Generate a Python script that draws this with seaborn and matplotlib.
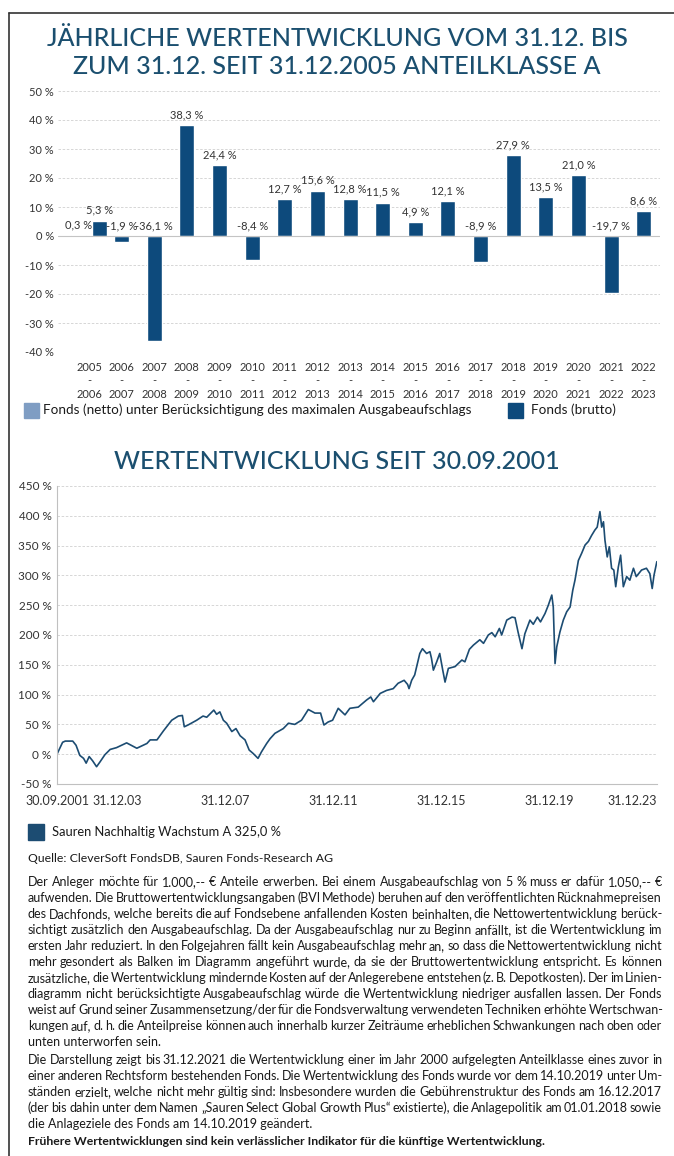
import pandas as pd
import seaborn as sns
import matplotlib.pyplot as plt
import matplotlib.dates as mdates
from matplotlib.lines import Line2D
from matplotlib.patches import Rectangle
from matplotlib.ticker import FuncFormatter, MultipleLocator

# --- data: yearly performance (bar chart) ---
period_start = [2005, 2006, 2007, 2008, 2009, 2010, 2011, 2012, 2013,
                2014, 2015, 2016, 2017, 2018, 2019, 2020, 2021, 2022]
brutto = [5.3, -1.9, -36.1, 38.3, 24.4, -8.4, 12.7, 15.6, 12.8,
          11.5, 4.9, 12.1, -8.9, 27.9, 13.5, 21.0, -19.7, 8.6]
netto = [0.3]  # only the first period has a net bar
period_labels = [f"{y}\n-\n{y + 1}" for y in period_start]

# --- data: cumulative performance since 30.09.2001 (line chart) ---
line_dates = [
    "2001-09-30", "2001-12-15", "2002-01-20", "2002-05-01", "2002-06-15", "2002-08-05",
    "2002-09-25", "2002-10-30", "2002-12-10", "2003-01-25", "2003-03-20", "2003-05-05",
    "2003-07-10", "2003-09-20", "2003-12-15", "2004-04-30", "2004-09-15", "2005-01-30",
    "2005-03-15", "2005-06-15", "2005-09-10", "2006-01-01", "2006-04-01", "2006-05-25",
    "2006-06-20", "2006-08-10", "2006-12-05", "2007-03-01", "2007-04-20", "2007-07-25",
    "2007-09-01", "2007-10-15", "2007-12-01", "2008-01-15", "2008-03-25", "2008-05-20",
    "2008-07-15", "2008-09-20", "2008-11-15", "2009-01-10", "2009-03-15", "2009-05-01",
    "2009-07-10", "2009-08-25", "2009-10-30", "2010-02-20", "2010-05-01", "2010-07-25",
    "2010-10-25", "2011-01-25", "2011-04-25", "2011-07-10", "2011-08-25", "2011-10-20",
    "2011-12-20", "2012-03-05", "2012-06-05", "2012-08-10", "2012-12-01", "2013-03-25",
    "2013-05-20", "2013-06-25", "2013-09-25", "2013-12-20", "2014-03-20", "2014-05-25",
    "2014-08-15", "2014-10-01", "2014-10-20", "2014-11-25", "2015-01-05", "2015-02-05",
    "2015-03-15", "2015-04-20", "2015-06-15", "2015-07-30", "2015-08-20", "2015-09-15",
    "2015-10-30", "2015-12-10", "2016-01-20", "2016-02-20", "2016-04-05", "2016-07-05",
    "2016-10-05", "2016-11-15", "2017-01-15", "2017-03-10", "2017-06-05", "2017-07-25",
    "2017-09-28", "2017-11-15", "2017-12-30", "2018-02-25", "2018-03-28", "2018-06-05",
    "2018-08-15", "2018-09-25", "2018-11-05", "2018-12-28", "2019-02-05", "2019-04-15",
    "2019-05-30", "2019-07-25", "2019-09-05", "2019-11-05", "2019-12-20", "2020-02-05",
    "2020-02-25", "2020-03-20", "2020-04-12", "2020-05-25", "2020-07-10", "2020-08-25",
    "2020-10-10", "2020-11-15", "2020-12-15", "2021-01-30", "2021-03-15", "2021-05-01",
    "2021-06-15", "2021-07-28", "2021-09-10", "2021-10-12", "2021-11-18", "2021-12-12",
    "2022-01-05", "2022-01-25", "2022-02-25", "2022-03-25", "2022-04-25", "2022-05-25",
    "2022-06-20", "2022-07-25", "2022-08-25", "2022-10-01", "2022-11-15", "2022-12-28",
    "2023-02-15", "2023-03-25", "2023-06-05", "2023-08-10", "2023-09-25", "2023-10-27",
    "2023-11-20", "2023-12-29",
]
line_values = [
    0, 20, 22, 22, 15, -2,
    -7, -15, -4, -11, -21, -13,
    -1, 8, 11, 19, 10, 18,
    24, 24, 39, 57, 64, 65,
    46, 49, 57, 64, 62, 74,
    67, 71, 57, 52, 38, 43,
    31, 24, 7, 1, -7, 4,
    18, 26, 35, 43, 52, 50,
    57, 75, 69, 69, 49, 54,
    57, 77, 66, 77, 79, 91,
    96, 88, 102, 107, 110, 119,
    124, 117, 110, 124, 133, 149,
    169, 177, 169, 172, 161, 141,
    155, 169, 141, 121, 144, 147,
    158, 155, 176, 183, 192, 186,
    200, 204, 197, 211, 200, 225,
    230, 229, 205, 177, 202, 225,
    218, 230, 222, 236, 250, 267,
    247, 152, 180, 205, 225, 239,
    247, 275, 292, 325, 337, 351,
    357, 367, 376, 381, 407, 381,
    390, 359, 331, 348, 312, 309,
    281, 314, 334, 281, 298, 292,
    312, 298, 309, 312, 303, 278,
    300, 323,
]
xtick_dates = ["2001-09-30", "2003-12-31", "2007-12-31", "2011-12-31",
               "2015-12-31", "2019-12-31", "2023-12-31"]
xtick_labels = ["30.09.2001", "31.12.03", "31.12.07", "31.12.11",
                "31.12.15", "31.12.19", "31.12.23"]

# --- text ---
title_1 = ["JÄHRLICHE WERTENTWICKLUNG VOM 31.12. BIS",
           "ZUM 31.12. SEIT 31.12.2005 ANTEILKLASSE A"]
title_2 = "WERTENTWICKLUNG SEIT 30.09.2001"
legend_netto = "Fonds (netto) unter Berücksichtigung des maximalen Ausgabeaufschlags"
legend_brutto = "Fonds (brutto)"
legend_line = "Sauren Nachhaltig Wachstum A 325,0 %"
source = "Quelle: CleverSoft FondsDB, Sauren Fonds-Research AG"
para_1 = [
    "Der Anleger möchte für 1.000,-- € Anteile erwerben. Bei einem Ausgabeaufschlag von 5 % muss er dafür 1.050,-- €",
    "aufwenden. Die Bruttowertentwicklungsangaben (BVI Methode) beruhen auf den veröffentlichten Rücknahmepreisen",
    "des Dachfonds, welche bereits die auf Fondsebene anfallenden Kosten beinhalten, die Nettowertentwicklung berück-",
    "sichtigt zusätzlich den Ausgabeaufschlag. Da der Ausgabeaufschlag nur zu Beginn anfällt, ist die Wertentwicklung im",
    "ersten Jahr reduziert. In den Folgejahren fällt kein Ausgabeaufschlag mehr an, so dass die Nettowertentwicklung nicht",
    "mehr gesondert als Balken im Diagramm angeführt wurde, da sie der Bruttowertentwicklung entspricht. Es können",
    "zusätzliche, die Wertentwicklung mindernde Kosten auf der Anlegerebene entstehen (z. B. Depotkosten). Der im Linien-",
    "diagramm nicht berücksichtigte Ausgabeaufschlag würde die Wertentwicklung niedriger ausfallen lassen. Der Fonds",
    "weist auf Grund seiner Zusammensetzung/der für die Fondsverwaltung verwendeten Techniken erhöhte Wertschwan-",
    "kungen auf, d. h. die Anteilpreise können auch innerhalb kurzer Zeiträume erheblichen Schwankungen nach oben oder",
    "unten unterworfen sein.",
]
para_2 = [
    "Die Darstellung zeigt bis 31.12.2021 die Wertentwicklung einer im Jahr 2000 aufgelegten Anteilklasse eines zuvor in",
    "einer anderen Rechtsform bestehenden Fonds. Die Wertentwicklung des Fonds wurde vor dem 14.10.2019 unter Um-",
    "ständen erzielt, welche nicht mehr gültig sind: Insbesondere wurden die Gebührenstruktur des Fonds am 16.12.2017",
    "(der bis dahin unter dem Namen „Sauren Select Global Growth Plus“ existierte), die Anlagepolitik am 01.01.2018 sowie",
    "die Anlageziele des Fonds am 14.10.2019 geändert.",
]
disclaimer = "Frühere Wertentwicklungen sind kein verlässlicher Indikator für die künftige Wertentwicklung."

# --- style ---
dark = "#0d4a7c"
light = "#7f9dc3"
title_color = "#1b4f6f"
line_color = "#1c4c72"
text_color = "#1a1a1a"
grid_color = "#d0d0d0"

sns.set_style("white")
plt.rcParams["font.family"] = ["Lato", "DejaVu Sans"]

W, H = 674, 1156
fig = plt.figure(figsize=(W / 100, H / 100), dpi=100)


def box(left, top, right, bottom):
    # pixel box -> figure fraction rect
    return [left / W, 1 - bottom / H, (right - left) / W, (bottom - top) / H]


pct = FuncFormatter(lambda v, _: f"{v:.0f} %")

# frame (left and top edge)
fig.add_artist(Line2D([9 / W, 9 / W], [0, 1 - 13 / H], color="#333333", lw=1.2))
fig.add_artist(Line2D([9 / W, 1], [1 - 13 / H, 1 - 13 / H], color="#333333", lw=1.2))

# titles
for i, t in enumerate(title_1):
    fig.text(0.5, 1 - (38 + 28 * i) / H, t, ha="center", va="center",
             fontsize=18, color=title_color, fontweight="medium")
fig.text(0.5, 1 - 461 / H, title_2, ha="center", va="center",
         fontsize=18, color=title_color, fontweight="medium")

# ---------------- bar chart ----------------
bars = pd.DataFrame({
    "period": period_labels + period_labels[:len(netto)],
    "value": brutto + netto,
    "series": ["brutto"] * len(brutto) + ["netto"] * len(netto),
})

ax1 = fig.add_axes(box(58, 91, 660, 352))
sns.barplot(data=bars, x="period", y="value", hue="series", order=period_labels,
            hue_order=["netto", "brutto"], palette={"netto": light, "brutto": dark},
            dodge=False, width=0.46, saturation=1, errorbar=None, legend=False, ax=ax1)

# first period holds two bars side by side
shift = 0.32
for c in ax1.containers:
    first = c[0]
    if len(c) == len(netto):
        first.set_x(first.get_x() - shift)
    else:
        first.set_x(first.get_x() + shift)

for c in ax1.containers:
    for b in c:
        v = b.get_height()
        ax1.annotate(f"{v:.1f} %".replace(".", ","),
                     (b.get_x() + b.get_width() / 2, max(v, 0)),
                     xytext=(0, 3.5), textcoords="offset points",
                     ha="center", va="bottom", fontsize=8, color="#333333")

ax1.set_ylim(-40, 50)
ax1.set_xlim(-0.95, 17.5)
ax1.yaxis.set_major_locator(MultipleLocator(10))
ax1.yaxis.set_major_formatter(pct)
ax1.set_xlabel("")
ax1.set_ylabel("")
ax1.tick_params(axis="both", length=0, labelsize=8, labelcolor="#333333")
ax1.tick_params(axis="x", pad=7)
ax1.tick_params(axis="y", pad=3)
plt.setp(ax1.get_xticklabels(), linespacing=1.3)
for s in ax1.spines.values():
    s.set_visible(False)
ax1.grid(axis="y", linestyle=(0, (3, 2)), color=grid_color, lw=0.6)
ax1.set_axisbelow(True)
ax1.axhline(0, color="#c4c4c4", lw=0.8, zorder=1)

# bar legend
fig.add_artist(Rectangle((24 / W, 1 - 418 / H), 15 / W, 15 / H,
                         transform=fig.transFigure, color=light))
fig.text(43 / W, 1 - 410 / H, legend_netto, va="center", fontsize=9.7, color=text_color)
fig.add_artist(Rectangle((508 / W, 1 - 418 / H), 15 / W, 15 / H,
                         transform=fig.transFigure, color=dark))
fig.text(531 / W, 1 - 410 / H, legend_brutto, va="center", fontsize=9.7, color=text_color)

# ---------------- line chart ----------------
line_df = pd.DataFrame({"date": pd.to_datetime(line_dates), "value": line_values})

ax2 = fig.add_axes(box(57, 486, 657, 784))
sns.lineplot(data=line_df, x="date", y="value", color=line_color, lw=1.2, ax=ax2)
ax2.set_xlim(mdates.date2num(pd.Timestamp(xtick_dates[0])),
             mdates.date2num(pd.Timestamp(xtick_dates[-1])))
ax2.set_ylim(-50, 450)
ax2.set_xticks(mdates.date2num(pd.to_datetime(xtick_dates)))
ax2.set_xticklabels(xtick_labels)
ax2.get_xticklabels()[-1].set_horizontalalignment("right")
ax2.yaxis.set_major_locator(MultipleLocator(50))
ax2.yaxis.set_major_formatter(pct)
ax2.set_xlabel("")
ax2.set_ylabel("")
ax2.tick_params(axis="x", length=5, width=0.8, color="#c0c0c0", labelsize=9,
                labelcolor="#333333", pad=3)
ax2.tick_params(axis="y", length=0, labelsize=8.5, labelcolor="#333333", pad=4)
for side in ["top", "right"]:
    ax2.spines[side].set_visible(False)
for side in ["left", "bottom"]:
    ax2.spines[side].set_color("#c0c0c0")
    ax2.spines[side].set_linewidth(0.8)
ax2.grid(axis="y", linestyle=(0, (3, 2)), color=grid_color, lw=0.6)
ax2.set_axisbelow(True)

# line legend
fig.add_artist(Rectangle((28 / W, 1 - 840 / H), 16 / W, 16 / H,
                         transform=fig.transFigure, color=line_color))
fig.text(52 / W, 1 - 832 / H, legend_line, va="center", fontsize=9.3, color=text_color)

# ---------------- notes ----------------
X0, X1 = 28, 662
body_size = 9.0
renderer = fig.canvas.get_renderer()


def justified(lines, top, step=16):
    for i, line in enumerate(lines):
        y = 1 - (top + i * step + 4) / H
        if i == len(lines) - 1:
            fig.text(X0 / W, y, line, fontsize=body_size, va="baseline", color=text_color)
            continue
        words = line.split(" ")
        items = [fig.text(0, y, w, fontsize=body_size, va="baseline", color=text_color)
                 for w in words]
        widths = [t.get_window_extent(renderer).width for t in items]
        gap = max(((X1 - X0) - sum(widths)) / (len(words) - 1), 1.5)
        x = X0
        for t, w in zip(items, widths):
            t.set_x(x / W)
            x += w + gap


fig.text(X0 / W, 1 - 862 / H, source, fontsize=8.8, va="baseline", color=text_color)
justified(para_1, 882)
justified(para_2, 1060)
fig.text(X0 / W, 1 - 1145 / H, disclaimer, fontsize=8.8, va="baseline",
         color=text_color, fontweight="bold")

fig.savefig("out.png", dpi=100)
